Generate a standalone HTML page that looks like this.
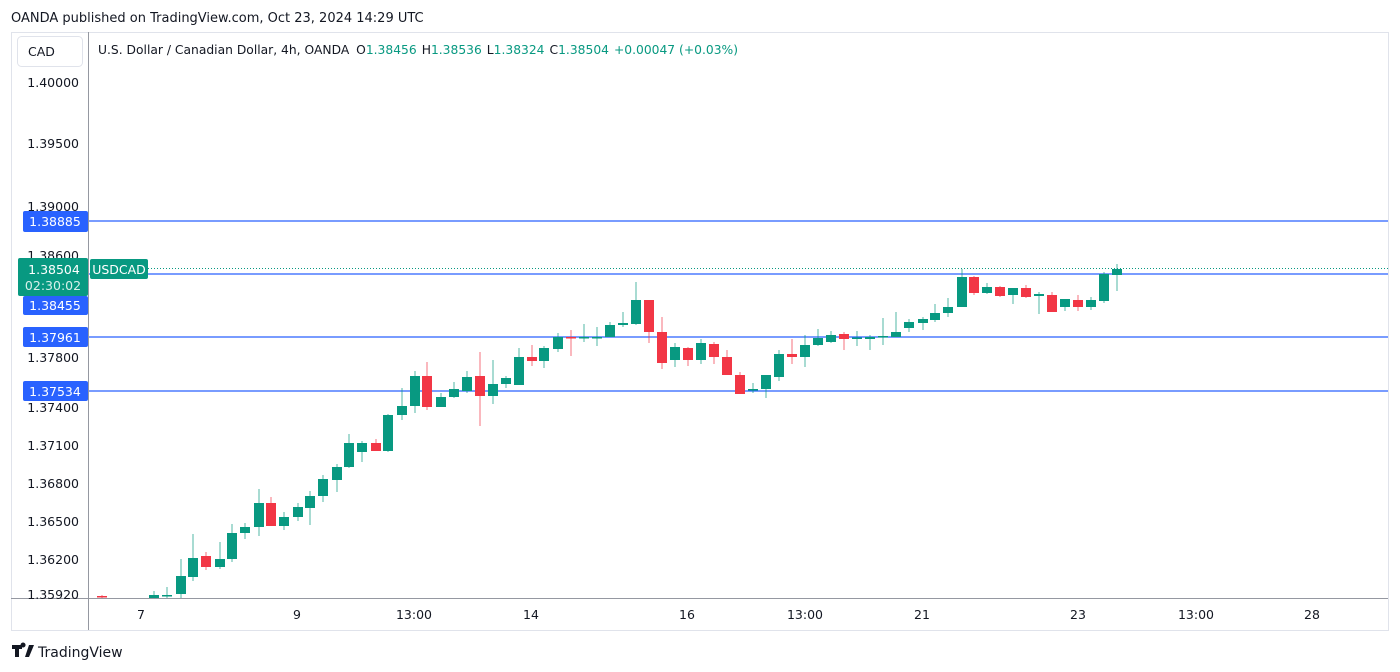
<!DOCTYPE html>
<html><head><meta charset="utf-8"><style>
body{margin:0;background:#fff;width:1400px;height:672px;overflow:hidden;font-family:"DejaVu Sans","Liberation Sans",sans-serif;}
svg{display:block}
</style></head><body>
<svg id="s" width="1400" height="672" xmlns="http://www.w3.org/2000/svg" font-family="DejaVu Sans, Liberation Sans, sans-serif">
<text x="11" y="22" font-size="13" fill="#131722">OANDA published on TradingView.com, Oct 23, 2024 14:29 UTC</text>
<rect x="11.5" y="32.5" width="1377" height="598" fill="none" stroke="#e0e3eb"/>
<line x1="88.5" y1="32" x2="88.5" y2="630" stroke="#9598a1"/>
<line x1="11" y1="598.5" x2="1388" y2="598.5" stroke="#9598a1"/>
<rect x="17.5" y="36.5" width="65" height="30" rx="4" fill="#fff" stroke="#e0e3eb"/>
<text x="28" y="56" font-size="12.5" fill="#131722">CAD</text>
<text x="98" y="54" font-size="12.3" fill="#131722">U.S. Dollar / Canadian Dollar, 4h, OANDA <tspan dx="3">O</tspan><tspan fill="#089981">1.38456</tspan><tspan dx="5">H</tspan><tspan fill="#089981">1.38536</tspan><tspan dx="5">L</tspan><tspan fill="#089981">1.38324</tspan><tspan dx="5">C</tspan><tspan fill="#089981">1.38504</tspan><tspan dx="5" fill="#089981">+0.00047 (+0.03%)</tspan></text>
<g font-size="12.5" fill="#131722" text-anchor="end">
<text x="79" y="87">1.40000</text><text x="79" y="148">1.39500</text><text x="79" y="211">1.39000</text>
<text x="79" y="260">1.38600</text><text x="79" y="362">1.37800</text><text x="79" y="412">1.37400</text>
<text x="79" y="450">1.37100</text><text x="79" y="488">1.36800</text><text x="79" y="526">1.36500</text>
<text x="79" y="564">1.36200</text><text x="79" y="599">1.35920</text>
</g>
<g font-size="12.5" fill="#131722" text-anchor="middle">
<text x="141" y="619">7</text><text x="297" y="619">9</text><text x="414" y="619">13:00</text>
<text x="531" y="619">14</text><text x="687" y="619">16</text><text x="805" y="619">13:00</text>
<text x="922" y="619">21</text><text x="1078" y="619">23</text><text x="1196" y="619">13:00</text><text x="1312" y="619">28</text>
</g>
<g stroke="#2962ff" stroke-width="1.3">
<line x1="89" y1="221" x2="1388" y2="221"/><line x1="89" y1="274" x2="1388" y2="274"/>
<line x1="89" y1="337" x2="1388" y2="337"/><line x1="89" y1="391" x2="1388" y2="391"/>
</g>
<line x1="148" y1="268.5" x2="1388" y2="268.5" stroke="#089981" stroke-dasharray="1,2"/>
<g id="c"></g>
<g font-size="12.5" fill="#fff" text-anchor="middle">
<rect x="23" y="211" width="65" height="21" rx="2" fill="#2962ff"/><text x="55" y="226">1.38885</text>
<rect x="23" y="296" width="65" height="19" rx="2" fill="#2962ff"/><text x="55" y="310">1.38455</text>
<rect x="23" y="327" width="65" height="20" rx="2" fill="#2962ff"/><text x="55" y="342">1.37961</text>
<rect x="23" y="381" width="65" height="20" rx="2" fill="#2962ff"/><text x="55" y="396">1.37534</text>
<rect x="18" y="258" width="70" height="38" rx="2" fill="#089981"/><text x="54" y="274">1.38504</text>
<text x="53" y="290" fill="#d7f0ea">02:30:02</text>
<rect x="90" y="259" width="58" height="20" rx="2" fill="#089981"/><text x="119" y="274">USDCAD</text>
</g>
<g transform="translate(12,645)" fill="#131722">
<path d="M0 0h10v4h-3v8h-4v-8h-3z M17 0h5l-5 12h-4z M11 2.5a2.5 2.5 0 1 1 0.1 0z"/>
<text x="26" y="12" font-size="14">TradingView</text>
</g>
</svg>
<script>
var d=[[102,596,597,595,598,0],[154,595,598,591,598,1],[167,595,596,587,598,1],[181,594,576,559,598,1],[193,577,558,534,581,1],[206,556,567,552,570,0],[220,567,559,542,569,1],[232,559,533,524,562,1],[245,533,527,523,539,1],[259,527,503,489,536,1],[271,503,526,497,526,0],[284,526,517,512,530,1],[298,517,507,503,521,1],[310,508,496,491,525,1],[323,496,479,475,502,1],[337,480,467,464,492,1],[349,467,443,434,468,1],[362,452,443,441,462,1],[376,443,451,439,451,0],[388,451,415,414,452,1],[402,415,406,388,420,1],[415,406,376,371,413,1],[427,376,407,362,410,0],[441,407,397,393,407,1],[454,397,389,382,398,1],[467,391,377,371,393,1],[480,376,396,352,426,0],[493,396,384,360,404,1],[506,384,378,376,388,1],[519,385,357,348,385,1],[532,357,361,345,366,0],[544,361,348,346,368,1],[558,349,337,333,352,1],[571,337,338,330,356,0],[584,338,337,324,342,1],[597,337.5,337,327,346,1],[610,337,325,322,337,1],[623,325,323,312,327,1],[636,324,300,282,325,1],[649,300,332,300,343,0],[662,332,363,317,369,0],[675,360,347,343,367,1],[688,348,360,347,366,0],[701,360,343,339,364,1],[714,344,357,342,364,0],[727,357,375,350,375,0],[740,375,394,372,394,0],[753,390,389,383,393,1],[766,389,375,375,398,1],[779,377,354,350,381,1],[792,354,357,339,364,0],[805,357,345,335,367,1],[818,345,338,329,346,1],[831,342,335,331,343,1],[844,334,339,332,350,0],[857,338,337.5,331,346,1],[870,339,337,335,350,1],[883,337,336,318,345,1],[896,337,332,312,337,1],[909,328,322,319,332,1],[923,323,319,317,330,1],[935,320,313,304,322,1],[948,313,307,298,317,1],[962,307,277,269,307,1],[974,277,293,276,295,0],[987,293,287,283,294,1],[1000,287,296,286,297,0],[1013,295,288,288,304,1],[1026,288,297,285,298,0],[1039,296,294,292,314,1],[1052,295,312,292,312,0],[1065,307,299,299,311,1],[1078,300,307,295,311,0],[1091,307,300,297,310,1],[1104,301,274,272,303,1],[1117,275,269,264,291,1]];
var h='';d.forEach(function(c){var col=c[5]?'#089981':'#f23645';var t=Math.min(c[1],c[2]),b=Math.max(c[1],c[2]);var hh=Math.max(b-t,1.5);
h+='<line x1="'+c[0]+'" x2="'+c[0]+'" y1="'+c[3]+'" y2="'+c[4]+'" stroke="'+col+'" stroke-width="1" opacity="0.7"/>';
h+='<rect x="'+(c[0]-5)+'" y="'+t+'" width="10" height="'+hh+'" fill="'+col+'"/>';});
document.getElementById('c').innerHTML=h;
</script>
</body></html>
